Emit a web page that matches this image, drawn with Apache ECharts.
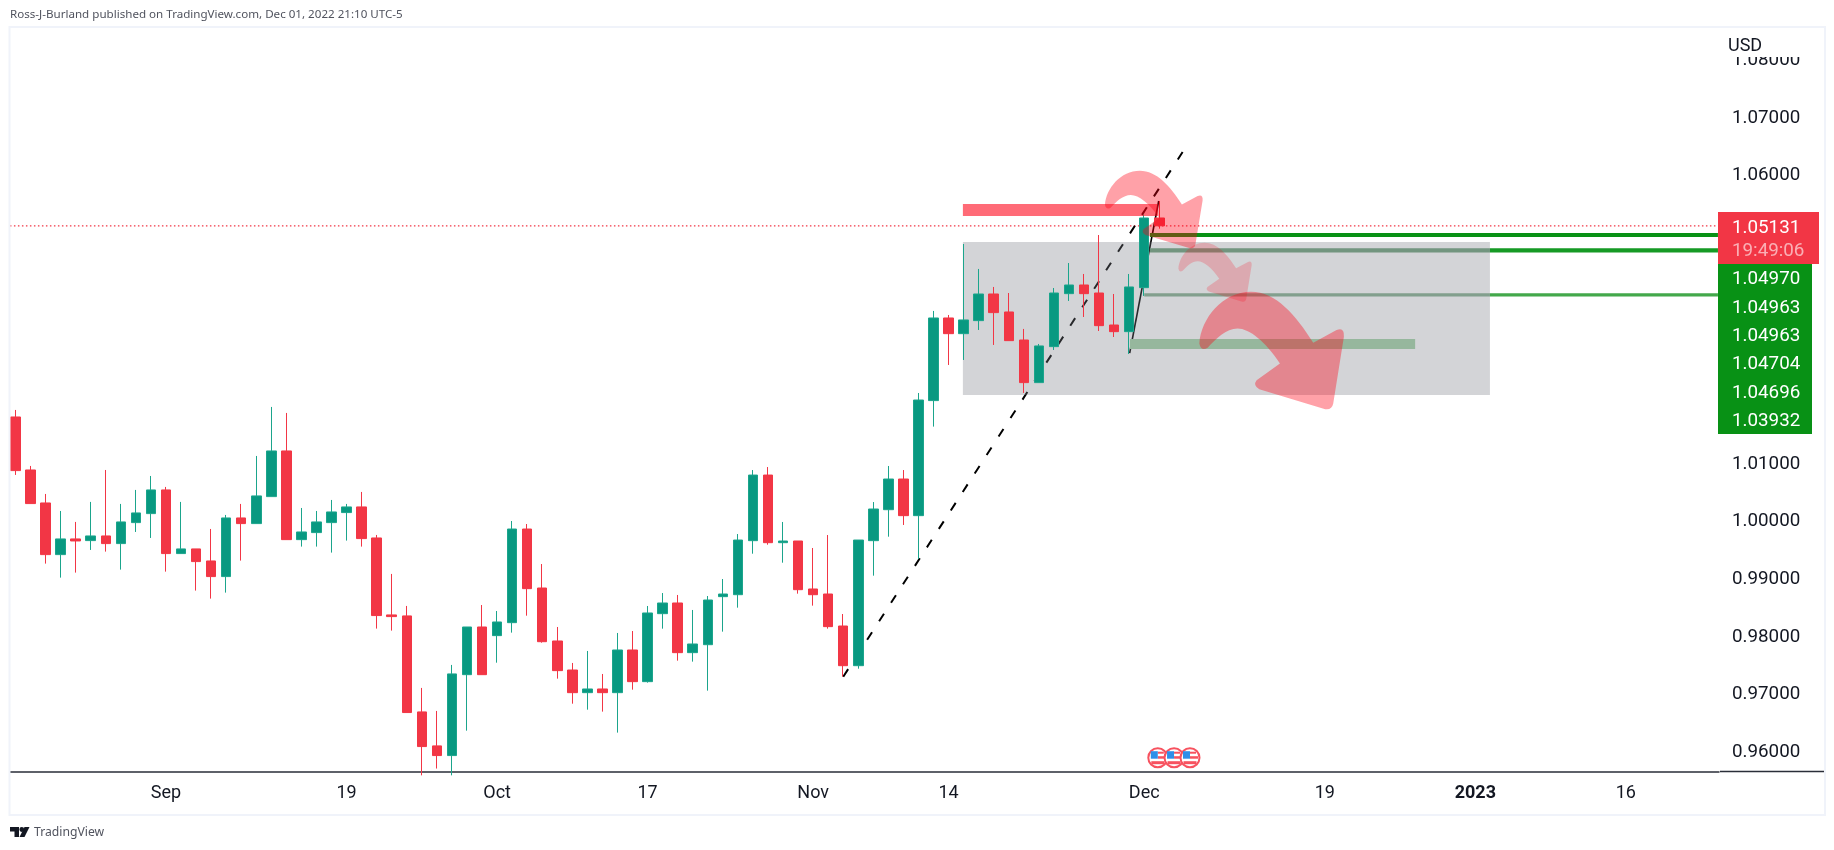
<!DOCTYPE html>
<html>
<head>
<meta charset="utf-8">
<style>html,body{margin:0;padding:0;background:#fff}#c{width:1834px;height:850px}</style>
<script src="https://cdn.jsdelivr.net/npm/echarts@6/dist/echarts.min.js"></script>
</head>
<body>
<div id="c"></div>
<script>
// Daily candles, index 0 = 18 Aug 2022, index 76 = 2 Dec 2022
const opens = [1.01815,1.00896,1.00324,.99428,.99700,.99671,.99752,.99619,.99983,1.00139,1.00550,.99446,.99527,.99318,.99047,1.00064,.99966,1.00434,1.01226,.99688,.99810,.99983,1.00157,1.00255,.99717,.98382,.98365,.96700,.96111,.95943,.97346,.98173,.98023,.98248,.99872,.98849,.97930,.97427,.97034,.97098,.97034,.97774,.97225,.98404,.98589,.97728,.97866,.98699,.98733,.99670,1.00808,.99635,.99664,.98832,.98745,.98190,.97502,.99670,1.00207,1.00739,1.00104,1.02099,1.03532,1.03260,1.03486,1.03948,1.03636,1.03150,1.02411,1.03035,1.03954,1.04104,1.03965,1.03410,1.03295,1.04058,1.05266];
const closes = [1.00885,1.00313,.99428,.99700,.99665,.99752,.99619,.99995,1.00151,1.00550,.99446,.99527,.99307,.99047,1.00064,.99966,1.00446,1.01226,.99688,.99821,.99995,1.00168,1.00255,.99706,.98371,.98353,.96689,.96099,.95943,.97359,.98173,.97346,.98260,.99872,.98838,.97918,.97416,.97034,.97098,.97034,.97774,.97225,.98416,.98589,.97728,.97878,.98641,.98745,.99681,1.00808,.99635,.99664,.98820,.98733,.98179,.97502,.99681,1.00219,1.00739,1.00104,1.02109,1.03532,1.03260,1.03498,1.03948,1.03625,1.03139,1.02411,1.03047,1.03965,1.04104,1.03954,1.03399,1.03295,1.04070,1.05266,1.05131];
const lows = [1.00810,1.00313,.99272,.99029,.99116,.99509,.99480,.99168,.99821,.99717,.99133,.99446,.98804,.98665,.98769,.99324,.99966,1.00434,.99688,.99567,.99567,.99463,.99671,.99567,.98145,.98110,.96689,.95600,.95718,.95600,.96375,.97346,.97554,.98075,.98369,.97901,.97277,.96843,.96739,.96705,.96341,.97086,.97208,.98144,.97589,.97572,.97069,.98092,.98508,.99444,.99600,.99288,.98751,.98543,.98144,.97312,.97450,.99063,.99739,.99942,.99352,1.01648,1.02717,1.02804,1.03324,1.03064,1.03139,1.02232,1.02411,1.02977,1.03827,1.03549,1.03306,1.03202,1.02908,1.03914,1.05081];
const highs = [1.01937,1.00966,1.00480,1.00185,.99995,1.00342,1.00896,1.00307,1.00550,1.00792,1.00602,1.00342,.99527,.99873,1.00116,1.00307,1.01139,1.01989,1.01885,1.00237,1.00185,1.00376,1.00307,1.00515,.99769,.99093,.98538,.97116,.96717,.97515,.98173,.98554,.98450,1.00011,.99959,.99265,.98173,.97549,.97757,.97358,.98069,.98103,.98537,.98762,.98728,.98468,.98710,.99005,.99785,1.00895,1.00947,.99994,.99664,.99543,.99768,.98398,.99681,1.00340,1.00965,1.00895,1.02231,1.03654,1.03584,1.04815,1.04382,1.04070,1.03965,1.03342,1.03081,1.04052,1.04485,1.04295,1.04971,1.03948,1.04295,1.05335,1.05561];

const timeTickIndex = [10,22,32,42,53,62,75,87,97,107];
const timeTickLabels = ['Sep','19','Oct','17','Nov','14','Dec','19','2023','16'];
const priceTicks = [0.96,0.97,0.98,0.99,1.00,1.01,1.02,1.03,1.04,1.05,1.06,1.07,1.08];
const lastPriceLabel = '1.05131';
const countdownLabel = '19:49:06';
const levelLabels = ['1.04970','1.04963','1.04963','1.04704','1.04696','1.03932'];
const lastPrice = 1.05131;

// Drawings as [index0, price0, index1, price1]
const trendDashed = [55, .97311, 77.55, 1.0641];
const trendSolid = [74.03, 1.02924, 75.96, 1.05561];
const grayBox = [62.95, 1.04849, 97.97, 1.02196];
const redBand = [62.95, 1.05508, 75.9, 1.053];
const greenBand = [74.05, 1.03167, 93, 1.02994];
// horizontal levels: [index0, index1, price]
const greenLevels = [
  [75.38, 113.12, 1.0497],
  [75.38, 97.97, 1.04704],
  [97.97, 113.12, 1.04704],
  [75, 97.97, 1.03932],
  [97.97, 113.12, 1.03932]
];
const greenLevelColors = ['#089115','#6fa17c','#169a25','#86b091','#43a84b'];
const greenLevelWidths = [4,4.4,4.4,3.4,3.4];
// arrows: bounding box [index0, priceTop, index1, priceBottom]
const arrowBoxes = [
  [72.39, 1.06086, 78.88, 1.0474],
  [77.27, 1.04837, 82.14, 1.03814],
  [78.66, 1.03988, 88.27, 1.01948]
];
const arrowOpacity = [.37,.2,.37];
const eventIndex = [75.9, 76.98, 78.04];
const eventPrice = 0.95906;

const arrowPath = 'M0 155C5 80 70 0 155 0C230 0 290 70 342 153L412 115Q436 105 434 135L402 335Q398 355 378 352L180 292Q160 280 172 265L242 215C200 150 150 110 115 110C80 110 50 140 25 168Q5 180 0 155Z';
const UI = 'Roboto, "Noto Sans", sans-serif';

const candles = opens.map((o,i)=>[i,o,closes[i],lows[i],highs[i]]);

function seg(api,a,stroke,w,dash){
  const p0=api.coord([a[0],a[1]]),p1=api.coord([a[2],a[3]]);
  return {type:'line',shape:{x1:p0[0],y1:p0[1],x2:p1[0],y2:p1[1]},style:{stroke:stroke,lineWidth:w,lineDash:dash||null}};
}
function box(api,a,fill){
  const p0=api.coord([a[0],a[1]]),p1=api.coord([a[2],a[3]]);
  return {type:'rect',shape:{x:p0[0],y:p0[1],width:p1[0]-p0[0],height:p1[1]-p0[1]},style:{fill:fill}};
}

const option = {
  animation:false,
  backgroundColor:'#fff',
  grid:{left:10,width:1709,top:28,height:743.6},
  xAxis:{type:'value',min:-0.3654,max:113.19,splitLine:{show:false},
    axisLine:{show:true,onZero:false,lineStyle:{color:'#2a2e39',width:1.5}},axisTick:{show:false},
    axisLabel:{customValues:timeTickIndex,margin:13,color:'#131722',fontFamily:UI,fontSize:18,
      formatter:v=>{const s=timeTickLabels[timeTickIndex.indexOf(v)];return s==='2023'?'{b|'+s+'}':s;},
      rich:{b:{fontWeight:'bold',fontFamily:UI,fontSize:18,color:'#131722'}}}},
  yAxis:{type:'value',position:'right',min:0.95665,max:1.08561,splitLine:{show:false},scale:true,
    axisLine:{show:false},axisTick:{show:false},
    axisLabel:{customValues:priceTicks,margin:13,color:'#131722',fontFamily:UI,fontSize:18.8,padding:[5,0,0,0],formatter:v=>v.toFixed(5)}},
  series:[
    {type:'custom',z:1,clip:true,silent:true,data:[0],renderItem:(p,api)=>{
      const c=[seg(api,[-0.37,lastPrice,113.12,lastPrice],'#f23645',1.2,[1.5,2.5]),seg(api,trendDashed,'#000',2,[9,13]),seg(api,trendSolid,'#000',1.6)];
      greenLevels.forEach((l,i)=>c.push(seg(api,[l[0],l[2],l[1],l[2]],greenLevelColors[i],greenLevelWidths[i])));
      return {type:'group',children:c};
    }},
    {type:'custom',z:2,clip:true,silent:true,data:[0],renderItem:(p,api)=>({type:'group',children:[box(api,grayBox,'rgba(120,123,134,.33)'),box(api,greenBand,'#96b79d')]})},
    {type:'candlestick',z:3,data:candles,encode:{x:0,y:[1,2,3,4]},barWidth:10,clip:true,silent:true,
      itemStyle:{color:'#089981',color0:'#f23645',borderColor:'#1ba58c',borderColor0:'#f23645',borderWidth:1}},
    {type:'custom',z:4,clip:true,silent:true,data:[0],renderItem:(p,api)=>{
      const c=[box(api,redBand,'rgba(255,0,20,.58)')];
      arrowBoxes.forEach((a,i)=>{
        const p0=api.coord([a[0],a[1]]),p1=api.coord([a[2],a[3]]);
        c.push({type:'path',shape:{pathData:arrowPath,layout:'cover',x:p0[0],y:p0[1],width:p1[0]-p0[0],height:p1[1]-p0[1]},
          style:{fill:'rgba(255,0,20,'+arrowOpacity[i]+')'}});
      });
      return {type:'group',children:c};
    }},
    {type:'custom',z:5,clip:false,silent:true,data:eventIndex.map(v=>[v,eventPrice]),encode:{x:0,y:1},renderItem:(p,api)=>{
      const q=api.coord([api.value(0),api.value(1)]),x=q[0],y=q[1];
      return {type:'group',children:[
        {type:'circle',shape:{cx:x,cy:y,r:9.5},style:{fill:'#fff',stroke:'#f7525f',lineWidth:2}},
        {type:'rect',shape:{x:x-6.5,y:y+3.5,width:13,height:3},style:{fill:'#f7525f'}},
        {type:'rect',shape:{x:x,y:y-1.5,width:8,height:2.5},style:{fill:'#f7525f'}},
        {type:'rect',shape:{x:x,y:y-6,width:6,height:2},style:{fill:'#f7525f'}},
        {type:'rect',shape:{x:x-7,y:y-6.5,width:7,height:7.5},style:{fill:'#2f8fe8'}}
      ]};
    }}
  ],
  graphic:{elements:[
    {type:'rect',z:100,silent:true,shape:{x:0,y:0,width:9,height:850},style:{fill:'#fff'}},
    {type:'rect',z:100,silent:true,shape:{x:1720,y:28,width:104,height:29},style:{fill:'#fff'}},
    {type:'line',z:100,silent:true,shape:{x1:1720,y1:771.6,x2:1825,y2:771.6},style:{stroke:'#2a2e39',lineWidth:1.5}},
    {type:'rect',z:101,silent:true,shape:{x:9.5,y:27,width:1815.5,height:788},style:{fill:'none',stroke:'#f0f3fa',lineWidth:2}},
    {type:'text',z:102,silent:true,x:1728,y:46,style:{text:'USD',fill:'#131722',font:'18px '+UI,textVerticalAlign:'middle'}},
    {type:'text',z:102,silent:true,x:10,y:14.5,style:{text:'Ross-J-Burland published on TradingView.com, Dec 01, 2022 21:10 UTC-5',fill:'#50535e',font:'11.6px "Noto Sans"',textVerticalAlign:'middle'}},
    {type:'polygon',z:102,silent:true,shape:{points:[[10,827],[19,827],[19,837],[14.5,837],[14.5,831.5],[10,831.5]]},style:{fill:'#131722'}},
    {type:'polygon',z:102,silent:true,shape:{points:[[29.5,827],[24.5,837],[19.5,837],[24.5,827]]},style:{fill:'#131722'}},
    {type:'circle',z:102,silent:true,shape:{cx:21.8,cy:829.5,r:2.4},style:{fill:'#131722'}},
    {type:'text',z:102,silent:true,x:34,y:833,style:{text:'TradingView',fill:'#50535e',font:'12.2px "Noto Sans"',textVerticalAlign:'middle'}},
    {type:'rect',z:110,silent:true,shape:{x:1718,y:212,width:101,height:52},style:{fill:'#f23645'}},
    {type:'text',z:111,silent:true,x:1732,y:228.5,style:{text:lastPriceLabel,fill:'#fff',font:'18.8px '+UI,textVerticalAlign:'middle'}},
    {type:'text',z:111,silent:true,x:1732,y:251.5,style:{text:countdownLabel,fill:'rgba(255,255,255,.6)',font:'18.8px '+UI,textVerticalAlign:'middle'}},
    {type:'rect',z:110,silent:true,shape:{x:1718,y:264,width:94,height:170},style:{fill:'#089115'}}
  ].concat(levelLabels.map((t,i)=>({type:'text',z:111,silent:true,x:1732,y:279.5+i*28.4,style:{text:t,fill:'#fff',font:'18.8px '+UI,textVerticalAlign:'middle'}})))}
};
echarts.init(document.getElementById('c'),null,{renderer:'canvas'}).setOption(option);
</script>
</body>
</html>
